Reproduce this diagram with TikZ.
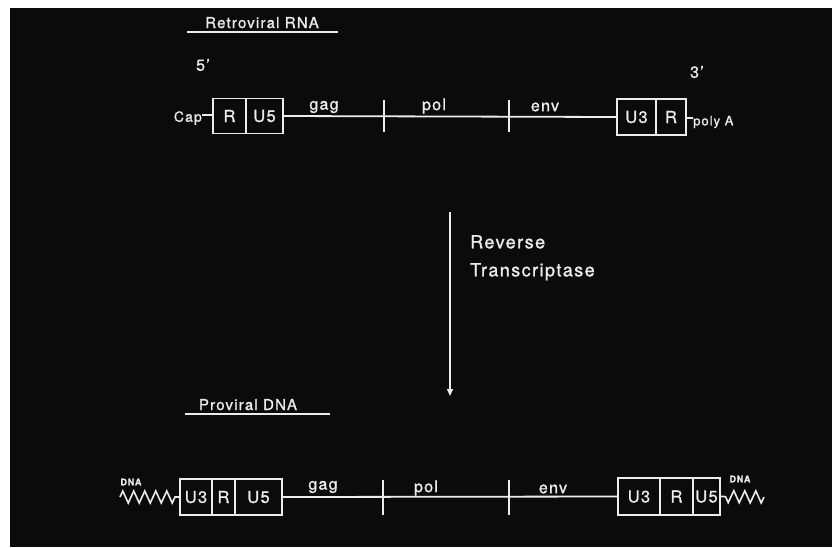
\documentclass[tikz,border=0pt]{standalone}
\usepackage{fontspec}
\setmainfont{TeX Gyre Heros}[LetterSpace=8, FakeBold=1.2]
\usetikzlibrary{arrows.meta,decorations.pathmorphing}
\definecolor{bg}{HTML}{0B0B0B}
\definecolor{ink}{HTML}{ECECEC}
\tikzset{
  seg/.style={draw=ink, line width=1.4pt, minimum height=35pt, inner sep=0pt, text=ink, font=\fontsize{16.5}{16}\selectfont},
  strand/.style={draw=ink, line width=1.8pt},
  tick/.style={draw=ink, line width=1.6pt},
  lbl/.style={text=ink, inner sep=0pt, font=\fontsize{16}{16}\selectfont},
  small/.style={text=ink, inner sep=0pt, font=\fontsize{14}{14}\selectfont},
  tiny/.style={text=ink, inner sep=0pt, font=\fontsize{9}{9}\selectfont\bfseries},
  title/.style={text=ink, inner sep=0pt, font=\fontsize{15}{15}\selectfont},
  uline/.style={draw=ink, line width=1.3pt},
  zz/.style={draw=ink, line width=1.6pt, decorate, decoration={zigzag, segment length=11pt, amplitude=6pt, post length=3pt}},
}
\begin{document}
\begin{tikzpicture}[x=1pt,y=-1pt]
\useasboundingbox (0,0) rectangle (832,547);
\fill[white] (0,0) rectangle (832,547);
\fill[bg] (10,8) rectangle (832,547);

% ---------- Retroviral RNA ----------
\node[title, anchor=base] (rtitle) at (262,28) {Retroviral RNA};
\coordinate (ru1) at (187,32);
\coordinate (ru2) at (338,32);
\draw[uline] (ru1) -- (ru2);
\node[title, font=\fontsize{16}{16}\selectfont] (five) at (203,65) {5'};
\node[title, font=\fontsize{16}{16}\selectfont] (three) at (697,72) {3'};

\node[seg, minimum width=33pt] (rR) at (229.5,116) {R};
\node[seg, minimum width=37pt] (rU5) at (264.5,116) {U5};
\node[small, anchor=east] (cap) at (202,118) {Cap};
\draw[strand, line width=1.4pt] (cap.east) ++(0,-3) coordinate (capd) -- (capd -| rR.west);

\node[seg, minimum width=39pt, minimum height=36pt] (rU3b) at (636.5,117) {U3};
\node[seg, minimum width=30pt, minimum height=36pt] (rRb) at (671,117) {R};
\node[small, font=\fontsize{13}{13}\selectfont, anchor=west] (polyA) at (693,122) {poly A};
\draw[strand, line width=1.4pt] (rRb.east |- 0,118) -- (polyA.west |- 0,118);

\draw[strand] (rU5.east) -- (rU3b.west);
\coordinate (rt1) at (384,116);
\coordinate (rt2) at (509,116);
\draw[tick] (rt1) ++(0,-16) -- ++(0,32);
\draw[tick] (rt2) ++(0,-16) -- ++(0,32);
\node[lbl] (rgag) at (324,107) {gag};
\node[lbl] (rpol) at (434,106) {pol};
\node[lbl] (renv) at (545,107) {env};

% ---------- Arrow ----------
\coordinate (a1) at (450,212);
\coordinate (a2) at (450,396);
\draw[draw=ink, line width=1.4pt, -{Triangle[length=7pt,width=6pt]}] (a1) -- (a2);
\node[text=ink, anchor=north west, align=left, inner sep=0pt,
      font=\fontsize{18}{28}\selectfont] (rt) at (470,235) {Reverse\\Transcriptase};

% ---------- Proviral DNA ----------
\node[title, anchor=base] (ptitle) at (248,410) {Proviral DNA};
\coordinate (pu1) at (185,414);
\coordinate (pu2) at (330,414);
\draw[uline] (pu1) -- (pu2);

\node[seg, minimum width=32pt, minimum height=36pt] (dU3a) at (196,497) {U3};
\node[seg, minimum width=23pt, minimum height=36pt] (dRa) at (223.5,497) {R};
\node[seg, minimum width=47pt, minimum height=36pt] (dU5a) at (258.5,497) {U5};

\node[seg, minimum width=42pt, minimum height=37pt] (dU3b) at (639,496.5) {U3};
\node[seg, minimum width=33pt, minimum height=37pt] (dRb) at (676.5,496.5) {R};
\node[seg, minimum width=27pt, minimum height=37pt] (dU5b) at (706.5,496.5) {U5};

\draw[strand] (dU5a.east) -- (dU3b.west);
\coordinate (dt1) at (383,497);
\coordinate (dt2) at (509,497);
\draw[tick] (dt1) ++(0,-17) -- ++(0,35);
\draw[tick] (dt2) ++(0,-17) -- ++(0,35);
\node[lbl] (dgag) at (323,487) {gag};
\node[lbl] (dpol) at (426,488) {pol};
\node[lbl] (denv) at (553,489) {env};

\coordinate (zl) at (120,497);
\draw[zz] (zl) -- (dU3a.west);
\node[tiny] (dnal) at (131,482) {DNA};
\coordinate (zr) at (764,497);
\draw[zz] (zr) -- (dU5b.east);
\node[tiny] (dnar) at (740,479) {DNA};
\end{tikzpicture}
\end{document}
